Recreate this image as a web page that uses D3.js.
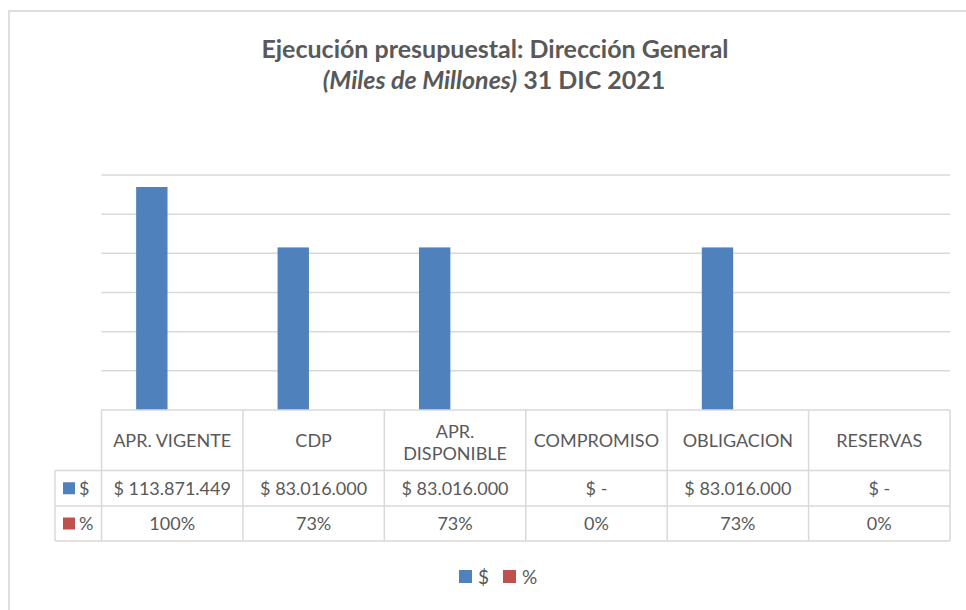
<!DOCTYPE html>
<html>
<head>
<meta charset="utf-8">
<script src="https://cdn.jsdelivr.net/npm/d3@7"></script>
<style>
  body { margin: 0; background: #fff; }
  svg { font-family: Lato, "Open Sans", sans-serif; }
</style>
</head>
<body>
<svg width="966" height="610"></svg>
<script>
// data
var categorias = ['APR. VIGENTE', 'CDP', 'APR. DISPONIBLE', 'COMPROMISO', 'OBLIGACION', 'RESERVAS'];
var series = ['$', '%'];
var valores = [113871449, 83016000, 83016000, 0, 83016000, 0];
var porcentajes = [1.00, 0.73, 0.73, 0, 0.73, 0];
var colores = ['#4F81BD', '#C0504D'];
var yTicks = [0, 20000000, 40000000, 60000000, 80000000, 100000000, 120000000];

var svg = d3.select('svg');
var gris = '#595959';
var linea = '#D9D9D9';

// chart border
svg.append('rect')
    .attr('x', 9).attr('y', 11)
    .attr('width', 1000).attr('height', 700)
    .attr('fill', 'none')
    .attr('stroke', '#DEDEDE').attr('stroke-width', 2);

// title
var titulo = svg.append('g').attr('fill', gris).attr('text-anchor', 'middle')
    .style('font-weight', 'bold').style('font-size', '25px');
titulo.append('text').attr('x', 495).attr('y', 58)
    .text('Ejecución presupuestal: Dirección General');
var t2 = titulo.append('text').attr('x', 494).attr('y', 89);
t2.append('tspan').style('font-style', 'italic').text('(Miles de Millones)');
t2.append('tspan').text(' 31 DIC 2021');

var plotLeft = 101.5, plotRight = 950, plotTop = 175, plotBottom = 410;

var x = d3.scaleBand().domain(categorias).range([plotLeft, plotRight]);
var xs = d3.scaleBand().domain(series).range([0, x.bandwidth()])
    .paddingInner(0.23).paddingOuter(0.85);
var y = d3.scaleLinear().domain([0, 120000000]).range([plotBottom, plotTop]);

// gridlines
svg.append('g').selectAll('line')
    .data(yTicks.slice(1))
    .enter()
    .append('line')
    .attr('x1', plotLeft).attr('x2', plotRight)
    .attr('y1', function(d){ return y(d); })
    .attr('y2', function(d){ return y(d); })
    .attr('stroke', linea).attr('stroke-width', 1.5);

// bars
var datos = [valores, porcentajes];
series.forEach(function(s, i){
    svg.append('g').selectAll('rect')
        .data(datos[i])
        .enter()
        .append('rect')
        .attr('x', function(d, j){ return x(categorias[j]) + xs(s); })
        .attr('width', xs.bandwidth())
        .attr('y', function(d){ return y(d); })
        .attr('height', function(d){ return plotBottom - y(d); })
        .attr('fill', colores[i]);
});

// data table
var fmt = d3.formatLocale({decimal: ',', thousands: '.', grouping: [3], currency: ['$', '']}).format(',');
var filas = [[470.5, 506], [506, 541]];
var tabla = svg.append('g').attr('stroke', linea).attr('stroke-width', 1.5).attr('fill', 'none');
var colX = categorias.map(function(c){ return x(c); }).concat([plotRight]);

// horizontal lines
tabla.append('line').attr('x1', plotLeft).attr('x2', plotRight).attr('y1', plotBottom).attr('y2', plotBottom);
[470.5, 506, 541].forEach(function(yy){
    tabla.append('line').attr('x1', 55).attr('x2', plotRight).attr('y1', yy).attr('y2', yy);
});
// vertical lines
colX.forEach(function(xx){
    tabla.append('line').attr('x1', xx).attr('x2', xx).attr('y1', plotBottom).attr('y2', 541);
});
tabla.append('line').attr('x1', 55).attr('x2', 55).attr('y1', 470.5).attr('y2', 541);

var textos = svg.append('g').attr('fill', gris).attr('text-anchor', 'middle').style('font-size', '18px');

// header labels, wrapped to cell width
categorias.forEach(function(c){
    var cx = x(c) + x.bandwidth() / 2;
    var t = textos.append('text').attr('x', cx).attr('y', 447).text(c);
    if (t.node().getComputedTextLength() > x.bandwidth() - 8) {
        var palabras = c.split(' ');
        t.text(null);
        t.append('tspan').attr('x', cx).attr('y', 438).text(palabras[0]);
        t.append('tspan').attr('x', cx).attr('y', 460).text(palabras.slice(1).join(' '));
    }
});

// row values
valores.forEach(function(v, j){
    textos.append('text')
        .attr('x', x(categorias[j]) + x.bandwidth() / 2)
        .attr('y', 495)
        .text(v === 0 ? '$ -' : '$ ' + fmt(v));
});
porcentajes.forEach(function(p, j){
    textos.append('text')
        .attr('x', x(categorias[j]) + x.bandwidth() / 2)
        .attr('y', 530)
        .text(d3.format('.0%')(p));
});

// row keys
series.forEach(function(s, i){
    var cy = (filas[i][0] + filas[i][1]) / 2;
    svg.append('rect').attr('x', 63).attr('y', cy - 6).attr('width', 12).attr('height', 12).attr('fill', colores[i]);
    svg.append('text').attr('x', 79).attr('y', cy + 6.5).attr('fill', gris).style('font-size', '18px').text(s);
});

// legend
var leg = svg.append('g').attr('transform', 'translate(459,570)');
series.forEach(function(s, i){
    var g = leg.append('g').attr('transform', 'translate(' + (i * 44) + ',0)');
    g.append('rect').attr('width', 13).attr('height', 13).attr('fill', colores[i]);
    g.append('text').attr('x', 19).attr('y', 14).attr('fill', gris).style('font-size', '19px').text(s);
});
</script>
</body>
</html>
